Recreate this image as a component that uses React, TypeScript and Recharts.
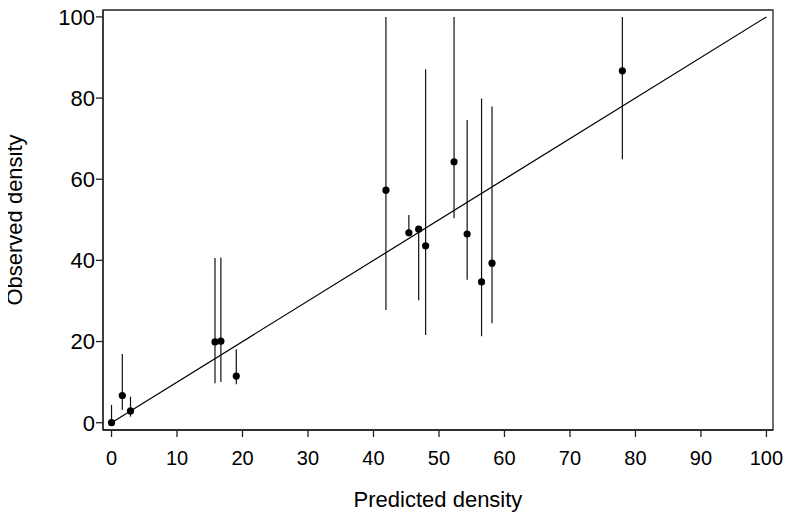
import {
  ScatterChart,
  Scatter,
  XAxis,
  YAxis,
  ErrorBar,
  ReferenceLine,
  ReferenceArea,
} from "recharts";

const predicted = [0, 1.65, 2.9, 15.8, 16.7, 19.05, 41.9, 45.4, 46.9, 47.96, 52.3, 54.3, 56.5, 58.1, 78.0];
const observed = [0, 6.7, 2.9, 19.9, 20.1, 11.5, 57.3, 46.8, 47.7, 43.6, 64.3, 46.5, 34.7, 39.3, 86.7];
const lower = [0, 3.2, 1.5, 9.7, 10.0, 9.5, 27.8, 46.0, 30.2, 21.6, 50.4, 35.2, 21.3, 24.5, 64.9];
const upper = [4.4, 16.9, 6.4, 40.6, 40.7, 18.1, 100, 51.2, 48.5, 87.1, 100, 74.6, 79.9, 77.9, 100];

const xTicks = [0, 10, 20, 30, 40, 50, 60, 70, 80, 90, 100];
const yTicks = [0, 20, 40, 60, 80, 100];
const identityLine = [
  { x: 0, y: 0 },
  { x: 100, y: 100 },
];

const xDomain = [-1.3, 101];
const yDomain = [-1.8, 101.7];

const points = predicted.map((x, i) => ({
  x,
  y: observed[i],
  err: [observed[i] - lower[i], upper[i] - observed[i]],
}));

const font = "'Liberation Sans', Arial, sans-serif";

const Dot = (props: any) => <circle cx={props.cx} cy={props.cy} r={3.6} fill="#000" />;

export default function App() {
  // pull the chart over the body margin so the rotated y label isn't clipped
  return (
    <div style={{ width: 793, height: 519, margin: "-8px 0 0 -8px", fontFamily: font }}>
      <ScatterChart width={793} height={519} margin={{ top: 10, right: 20, left: 0, bottom: 0 }}>
        <XAxis
          type="number"
          dataKey="x"
          domain={xDomain}
          allowDataOverflow
          ticks={xTicks}
          interval={0}
          tickSize={7}
          tickMargin={14}
          height={89}
          stroke="#222"
          strokeWidth={1.3}
          tick={{ fill: "#000", fontSize: 20, fontFamily: font }}
          label={{
            value: "Predicted density",
            position: "insideBottom",
            offset: 12,
            fill: "#000",
            fontSize: 22,
            fontFamily: font,
          }}
        />
        <YAxis
          type="number"
          dataKey="y"
          domain={yDomain}
          allowDataOverflow
          ticks={yTicks}
          interval={0}
          tickSize={7}
          tickMargin={1}
          width={103}
          stroke="#222"
          strokeWidth={1.3}
          tick={{ fill: "#000", fontSize: 22, fontFamily: font }}
          label={{
            value: "Observed density",
            angle: -90,
            position: "insideLeft",
            offset: 14,
            fill: "#000",
            fontSize: 22,
            fontFamily: font,
            style: { textAnchor: "middle" },
          }}
        />
        <ReferenceArea
          x1={xDomain[0]}
          x2={xDomain[1]}
          y1={yDomain[0]}
          y2={yDomain[1]}
          fill="none"
          fillOpacity={0}
          stroke="#222"
          strokeWidth={1.3}
        />
        <ReferenceLine segment={identityLine} stroke="#000" strokeWidth={1.2} />
        <Scatter data={points} shape={Dot} isAnimationActive={false}>
          <ErrorBar dataKey="err" direction="y" width={0} stroke="#111" strokeWidth={1.2} />
        </Scatter>
      </ScatterChart>
    </div>
  );
}
